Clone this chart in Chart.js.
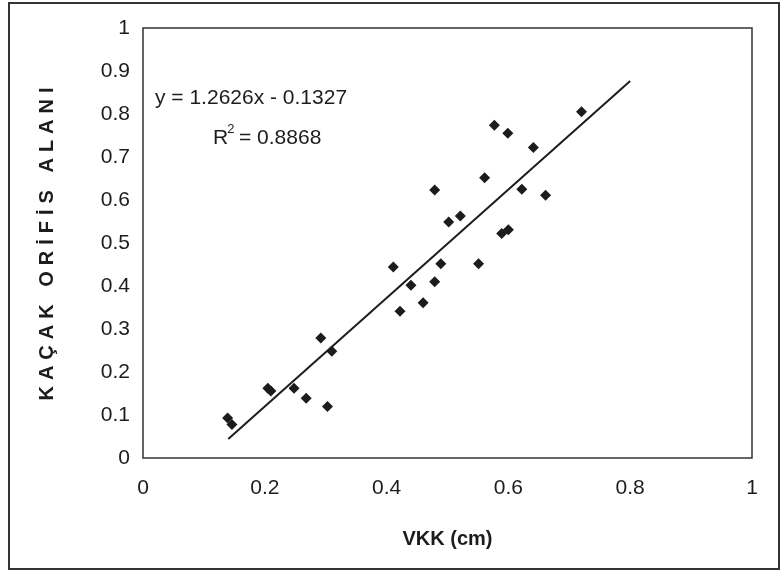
<!DOCTYPE html>
<html>
<head>
<meta charset="utf-8">
<script src="https://cdn.jsdelivr.net/npm/chart.js@4.4.0/dist/chart.umd.min.js"></script>
<style>
  html, body { margin: 0; padding: 0; background: #fff; }
  #wrap { width: 784px; height: 571px; }
</style>
</head>
<body>
<div id="wrap"><canvas id="chart" width="784" height="571"></canvas></div>
<script>
// Values
var vkk  = [0.139, 0.146, 0.205, 0.21, 0.248, 0.268, 0.303, 0.292, 0.31, 0.411, 0.422, 0.44, 0.46, 0.479,
            0.489, 0.479, 0.502, 0.521, 0.551, 0.561, 0.577, 0.589, 0.6, 0.599, 0.622, 0.641, 0.661, 0.72];
var area = [0.093, 0.078, 0.162, 0.156, 0.162, 0.139, 0.12, 0.279, 0.248, 0.444, 0.341, 0.402, 0.361, 0.41,
            0.452, 0.623, 0.549, 0.563, 0.452, 0.652, 0.774, 0.522, 0.531, 0.755, 0.625, 0.722, 0.611, 0.805];

// Trend line ends
var trendX = [0.14, 0.8];
var trendY = [0.044, 0.877];

var xTitle = 'VKK (cm)';
var yTitle = 'KAÇAK ORİFİS ALANI';
var eqText = 'y = 1.2626x - 0.1327';
var r2Text = ' = 0.8868';

var FONT = '"Liberation Sans", Arial, sans-serif';
var INK = '#1c1c1c';

function toPoints(xs, ys) {
    var pts = [];
    for (var i = 0; i < xs.length; i++) {
        pts.push({ x: xs[i], y: ys[i] });
    }
    return pts;
}

function tickLabel(v) {
    return String(Math.round(v * 10) / 10);
}

// Frame, plot box and texts that Chart.js does not draw itself
var decorPlugin = {
    id: 'decor',
    beforeDraw: function(chart) {
        var ctx = chart.ctx;
        ctx.save();
        ctx.fillStyle = '#fff';
        ctx.fillRect(0, 0, chart.width, chart.height);
        ctx.strokeStyle = '#333';
        ctx.lineWidth = 2;
        ctx.strokeRect(9, 3, 770, 566);
        ctx.restore();
    },
    beforeDatasetsDraw: function(chart) {
        var a = chart.chartArea;
        var ctx = chart.ctx;
        ctx.save();
        ctx.strokeStyle = '#333';
        ctx.lineWidth = 1.5;
        ctx.strokeRect(a.left, a.top, a.right - a.left, a.bottom - a.top);
        ctx.restore();
    },
    afterDraw: function(chart) {
        var ctx = chart.ctx;
        var a = chart.chartArea;
        ctx.save();
        ctx.fillStyle = INK;

        // rotated y title with spaced letters
        ctx.translate(47, (a.top + a.bottom) / 2 + 1);
        ctx.rotate(-Math.PI / 2);
        ctx.font = 'bold 20px ' + FONT;
        ctx.letterSpacing = '6px';
        ctx.textAlign = 'center';
        ctx.textBaseline = 'middle';
        ctx.fillText(yTitle, 3, 0);
        ctx.restore();

        // regression text
        ctx.save();
        ctx.fillStyle = INK;
        ctx.font = '21px ' + FONT;
        ctx.textBaseline = 'middle';
        ctx.textAlign = 'left';
        ctx.fillText(eqText, a.left + 12, a.top + 70);
        var rx = a.left + 70, ry = a.top + 110;
        ctx.fillText('R', rx, ry);
        var w = ctx.measureText('R').width;
        ctx.font = '13px ' + FONT;
        ctx.fillText('2', rx + w - 1, ry - 9);
        ctx.font = '21px ' + FONT;
        ctx.fillText(r2Text, rx + w + 5, ry);
        ctx.restore();
    }
};

var ctx = document.getElementById('chart');
new Chart(ctx, {
    type: 'scatter',
    data: {
        datasets: [{
            label: 'Veri',
            data: toPoints(vkk, area),
            pointStyle: 'rectRot',
            pointRadius: 5.5,
            pointBackgroundColor: INK,
            pointBorderColor: INK,
            pointBorderWidth: 0,
            showLine: false
        }, {
            label: 'Trend',
            type: 'line',
            data: toPoints(trendX, trendY),
            borderColor: INK,
            borderWidth: 2,
            pointRadius: 0,
            fill: false
        }]
    },
    plugins: [decorPlugin],
    options: {
        responsive: false,
        animation: false,
        events: [],
        layout: {
            padding: { left: 0, top: 28, right: 32, bottom: 0 }
        },
        plugins: {
            legend: { display: false },
            tooltip: { enabled: false }
        },
        scales: {
            x: {
                type: 'linear',
                min: 0,
                max: 1,
                ticks: {
                    stepSize: 0.2,
                    padding: 10,
                    color: INK,
                    font: { family: FONT, size: 21 },
                    callback: tickLabel
                },
                grid: { display: false },
                border: { display: false },
                title: {
                    display: true,
                    text: xTitle,
                    color: INK,
                    font: { family: FONT, size: 20, weight: 'bold' },
                    padding: { top: 0, bottom: 20 }
                },
                afterFit: function(scale) { scale.height = 571 - 458; }
            },
            y: {
                type: 'linear',
                min: 0,
                max: 1,
                ticks: {
                    stepSize: 0.1,
                    padding: 5,
                    color: INK,
                    font: { family: FONT, size: 21 },
                    callback: tickLabel
                },
                grid: { display: false },
                border: { display: false },
                afterFit: function(scale) { scale.width = 143; }
            }
        }
    }
});
</script>
</body>
</html>
